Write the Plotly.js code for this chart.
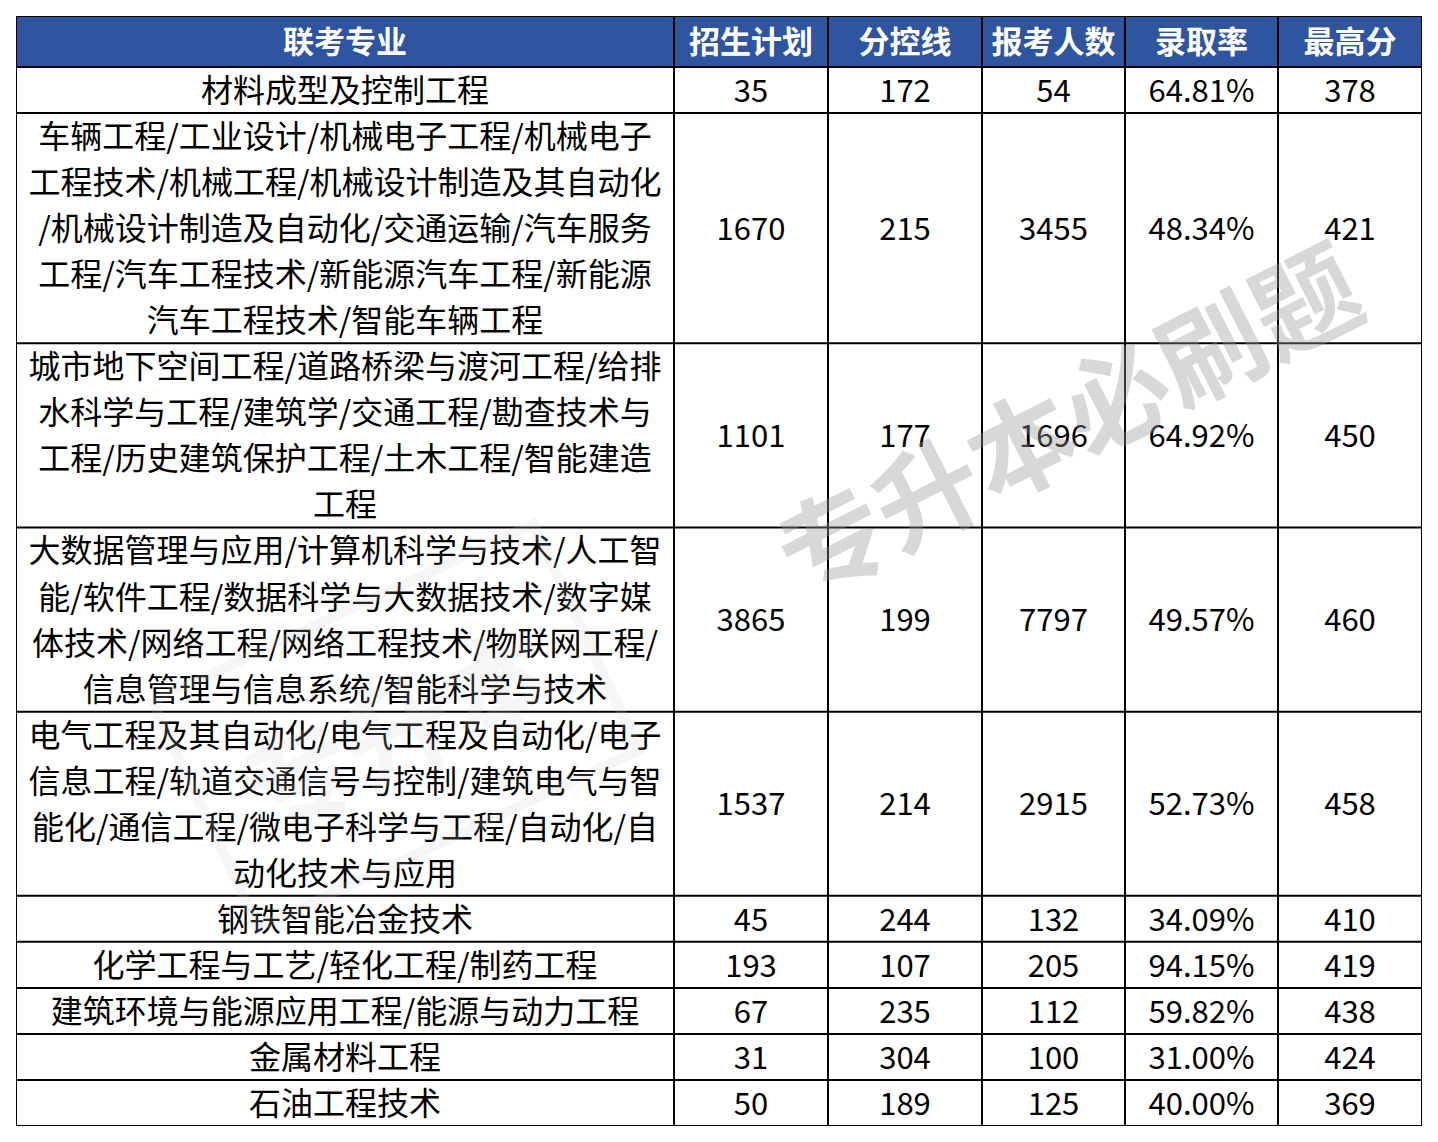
<!DOCTYPE html>
<html>
<head>
<meta charset="utf-8">
<script src="https://cdn.plot.ly/plotly-3.0.1.min.js"></script>
<style>
  body { margin: 0; background: #ffffff; }
  #chart { width: 1438px; height: 1142px; }
</style>
</head>
<body>
<div id="chart"></div>
<script>
// --- dados da tabela ---
const headers = ["联考专业", "招生计划", "分控线", "报考人数", "录取率", "最高分"];

const majors = [
    "材料成型及控制工程",
    "车辆工程/工业设计/机械电子工程/机械电子<br>工程技术/机械工程/机械设计制造及其自动化<br>/机械设计制造及自动化/交通运输/汽车服务<br>工程/汽车工程技术/新能源汽车工程/新能源<br>汽车工程技术/智能车辆工程",
    "城市地下空间工程/道路桥梁与渡河工程/给排<br>水科学与工程/建筑学/交通工程/勘查技术与<br>工程/历史建筑保护工程/土木工程/智能建造<br>工程",
    "大数据管理与应用/计算机科学与技术/人工智<br>能/软件工程/数据科学与大数据技术/数字媒<br>体技术/网络工程/网络工程技术/物联网工程/<br>信息管理与信息系统/智能科学与技术",
    "电气工程及其自动化/电气工程及自动化/电子<br>信息工程/轨道交通信号与控制/建筑电气与智<br>能化/通信工程/微电子科学与工程/自动化/自<br>动化技术与应用",
    "钢铁智能冶金技术",
    "化学工程与工艺/轻化工程/制药工程",
    "建筑环境与能源应用工程/能源与动力工程",
    "金属材料工程",
    "石油工程技术"
];

const plan = [35, 1670, 1101, 3865, 1537, 45, 193, 67, 31, 50];
const cutoff = [172, 215, 177, 199, 214, 244, 107, 235, 304, 189];
const applicants = [54, 3455, 1696, 7797, 2915, 132, 205, 112, 100, 125];
const admitRate = ["64.81%", "48.34%", "64.92%", "49.57%", "52.73%", "34.09%", "94.15%", "59.82%", "31.00%", "40.00%"];
const maxScore = [378, 421, 450, 460, 458, 410, 419, 438, 424, 369];

// --- geometria (unidades do eixo) ---
const colWidths = [658, 154, 154, 143, 153, 144];   // eixo x em px
const headerUnits = 51 / 46;                         // eixo y em "linhas de texto"
const textShift = 4 / 46;                            // desce um pouco o texto
const lineColor = "#000000";
const headerColor = "#2F54A0";
const cjkFont = "Noto Sans CJK SC";

const majorLines = majors.map(m => m.split("<br>"));
const rowUnits = majorLines.map(l => l.length);

const colEdges = [0];
colWidths.forEach(w => colEdges.push(colEdges[colEdges.length - 1] + w));
const colCenters = colWidths.map((w, i) => colEdges[i] + w / 2);

const rowEdges = [0, headerUnits];
rowUnits.forEach(u => rowEdges.push(rowEdges[rowEdges.length - 1] + u));
const totalX = colEdges[colEdges.length - 1];
const totalY = rowEdges[rowEdges.length - 1];

// --- traces de texto ---
const headerTrace = {
    type: "scatter", mode: "text",
    x: colCenters,
    y: colCenters.map(() => headerUnits / 2 + textShift),
    text: headers,
    textposition: "middle center",
    textfont: { family: cjkFont, size: 31, color: "#ffffff", weight: "bold" },
    hoverinfo: "skip", cliponaxis: false
};

// cada linha do nome do curso vira um ponto próprio
const majorX = [], majorY = [], majorT = [];
majorLines.forEach((lines, r) => {
    lines.forEach((t, k) => {
        majorX.push(colCenters[0]);
        majorY.push(rowEdges[r + 1] + k + 0.5 + textShift);
        majorT.push(t);
    });
});

const majorTrace = {
    type: "scatter", mode: "text",
    x: majorX, y: majorY, text: majorT,
    textposition: "middle center",
    textfont: { family: cjkFont, size: 32, color: "#000000" },
    hoverinfo: "skip", cliponaxis: false
};

const numberCols = [plan, cutoff, applicants, admitRate, maxScore];
const numberTraces = numberCols.map((col, c) => ({
    type: "scatter", mode: "text",
    x: col.map(() => colCenters[c + 1]),
    y: col.map((_, r) => (rowEdges[r + 1] + rowEdges[r + 2]) / 2 + textShift),
    text: col.map(String),
    textposition: "middle center",
    textfont: { family: cjkFont, size: 31, color: "#000000" },
    hoverinfo: "skip", cliponaxis: false
}));

// --- bordas e fundo do cabeçalho ---
const shapes = [{
    type: "rect", layer: "below",
    x0: 0, x1: totalX, y0: 0, y1: headerUnits,
    fillcolor: headerColor, line: { width: 0 }
}];
rowEdges.forEach(y => shapes.push({
    type: "line", x0: 0, x1: totalX, y0: y, y1: y,
    line: { color: lineColor, width: 2 }
}));
colEdges.forEach(x => shapes.push({
    type: "line", x0: x, x1: x, y0: 0, y1: totalY,
    line: { color: lineColor, width: 2 }
}));

const layout = {
    width: 1438,
    height: 1142,
    margin: { l: 16, r: 16, t: 16, b: 16 },
    paper_bgcolor: "#ffffff",
    plot_bgcolor: "#ffffff",
    showlegend: false,
    xaxis: { range: [0, totalX], visible: false, fixedrange: true },
    yaxis: { range: [totalY, 0], visible: false, fixedrange: true },
    shapes: shapes,
    annotations: [
        { // marca d'água principal
            text: "<b>专升本必刷题</b>",
            xref: "paper", yref: "paper",
            x: 0.747, y: 0.64,
            xanchor: "center", yanchor: "middle",
            showarrow: false,
            textangle: -27,
            font: { family: cjkFont, size: 106, color: "#9a9a9a" },
            opacity: 0.38
        },
        { // logo apagado à esquerda
            text: "<b>专升本</b>",
            xref: "paper", yref: "paper",
            x: 0.27, y: 0.36,
            xanchor: "center", yanchor: "middle",
            showarrow: false,
            textangle: -25,
            borderpad: 40,
            bordercolor: "#d0d0d0",
            borderwidth: 10,
            font: { family: cjkFont, size: 110, color: "#d0d0d0" },
            opacity: 0.18
        }
    ]
};

Plotly.newPlot("chart", [headerTrace, majorTrace].concat(numberTraces), layout,
    { displayModeBar: false, staticPlot: true });
</script>
</body>
</html>
